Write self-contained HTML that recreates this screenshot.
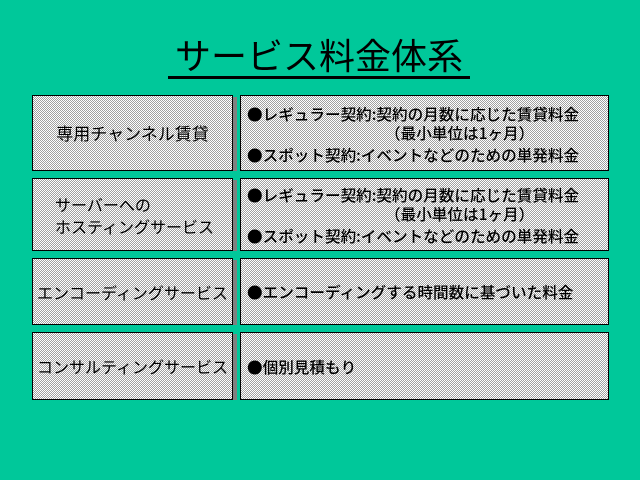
<!DOCTYPE html>
<html><head><meta charset="utf-8"><style>
body{margin:0;width:640px;height:480px;background:#00c89a;position:relative;overflow:hidden;font-family:"Noto Sans CJK JP",sans-serif;color:#000}
.t{position:absolute;left:168px;top:32px;width:302px;text-align:center;font-size:36px;line-height:44px;border-bottom:3px solid #000;white-space:nowrap;letter-spacing:0px}
.b{position:absolute;box-sizing:border-box;border:1.5px solid #000;background-color:#fff;background-image:repeating-conic-gradient(#a0a0a0 0 25%,#fff 0 50%);background-size:2px 2px;white-space:nowrap}
.l{left:32px;width:201px;display:flex;align-items:center;justify-content:center;font-size:16px;line-height:22px}
.r{left:240px;width:369px;font-size:15.6px;line-height:19px;padding-left:6px;font-weight:500}
.s{position:absolute;left:233px;width:4px;background:#808080}
</style></head><body>
<div class="t">サービス料金体系</div>

<div class="b l" style="top:95px;height:76px;font-size:17px">専用チャンネル賃貸</div>
<div class="s" style="top:97px;height:74px"></div>
<div class="b r" style="top:95px;height:76px;padding-top:9px">●レギュラー契約:契約の月数に応じた賃貸料金<br><span style="padding-left:138px">（最小単位は1ヶ月）</span><br><span style="display:block;margin-top:3px">●スポット契約:イベントなどのための単発料金</span></div>

<div class="b l" style="top:178px;height:73px;justify-content:flex-start;padding-left:22px">サーバーへの<br>ホスティングサービス</div>
<div class="s" style="top:180px;height:71px"></div>
<div class="b r" style="top:178px;height:73px;padding-top:7px">●レギュラー契約:契約の月数に応じた賃貸料金<br><span style="padding-left:138px">（最小単位は1ヶ月）</span><br><span style="display:block;margin-top:3px">●スポット契約:イベントなどのための単発料金</span></div>

<div class="b l" style="top:258px;height:67px">エンコーディングサービス</div>
<div class="s" style="top:260px;height:65px"></div>
<div class="b r" style="top:258px;height:67px;padding-top:24px">●エンコーディングする時間数に基づいた料金</div>

<div class="b l" style="top:332px;height:68px">コンサルティングサービス</div>
<div class="s" style="top:334px;height:66px"></div>
<div class="b r" style="top:332px;height:68px;padding-top:25px">●個別見積もり</div>
</body></html>
